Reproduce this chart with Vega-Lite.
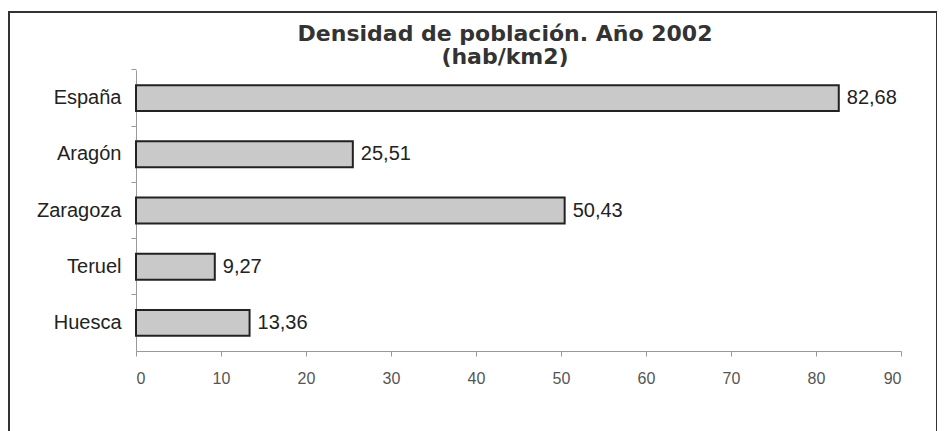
{
  "$schema": "https://vega.github.io/schema/vega-lite/v6.json",
  "autosize": {"type": "none"},
  "padding": {"left": 9, "top": 12, "right": 0, "bottom": 0},
  "width": 928,
  "height": 425,
  "background": "white",
  "config": {
    "view": {"stroke": "#333333", "strokeWidth": 2},
    "font": "Liberation Sans",
    "locale": {"number": {"decimal": ",", "thousands": ".", "grouping": [3], "currency": ["", " €"]}}
  },
  "title": {
    "text": ["Densidad de población.  Año 2002", "(hab/km2)"],
    "font": "DejaVu Sans",
    "fontSize": 22,
    "fontWeight": "bold",
    "color": "#333333",
    "anchor": "middle",
    "dx": 32,
    "offset": -57,
    "lineHeight": 23
  },
  "data": {
    "values": [
      {"region": "España", "densidad": 82.68},
      {"region": "Aragón", "densidad": 25.51},
      {"region": "Zaragoza", "densidad": 50.43},
      {"region": "Teruel", "densidad": 9.27},
      {"region": "Huesca", "densidad": 13.36}
    ]
  },
  "encoding": {
    "y": {
      "field": "region",
      "type": "nominal",
      "sort": ["España", "Aragón", "Zaragoza", "Teruel", "Huesca"],
      "scale": {"range": [58, 339], "paddingInner": 0.54, "paddingOuter": 0.27},
      "axis": {
        "title": null,
        "orient": "left",
        "offset": -127,
        "bandPosition": -0.588,
        "domainColor": "#999999",
        "tickColor": "#999999",
        "tickSize": 5,
        "labelFontSize": 20,
        "labelColor": "#222222",
        "labelPadding": 10,
        "labelFont": "Liberation Sans"
      }
    },
    "x": {
      "field": "densidad",
      "type": "quantitative",
      "scale": {"domain": [0, 90], "range": [127, 892], "nice": false, "zero": true},
      "axis": {
        "title": null,
        "values": [0, 10, 20, 30, 40, 50, 60, 70, 80, 90],
        "format": "d",
        "offset": -86,
        "grid": false,
        "domainColor": "#999999",
        "tickColor": "#999999",
        "tickSize": 5,
        "labelFontSize": 16,
        "labelColor": "#555555",
        "labelPadding": 14,
        "labelFont": "Liberation Sans"
      }
    }
  },
  "layer": [
    {
      "mark": {"type": "bar", "fill": "#c9c9c9", "stroke": "#222222", "strokeWidth": 2}
    },
    {
      "mark": {"type": "text", "align": "left", "baseline": "middle", "dx": 8, "fontSize": 20, "color": "#222222", "font": "Liberation Sans"},
      "encoding": {
        "text": {"field": "densidad", "type": "quantitative", "format": ".2f"}
      }
    }
  ]
}
